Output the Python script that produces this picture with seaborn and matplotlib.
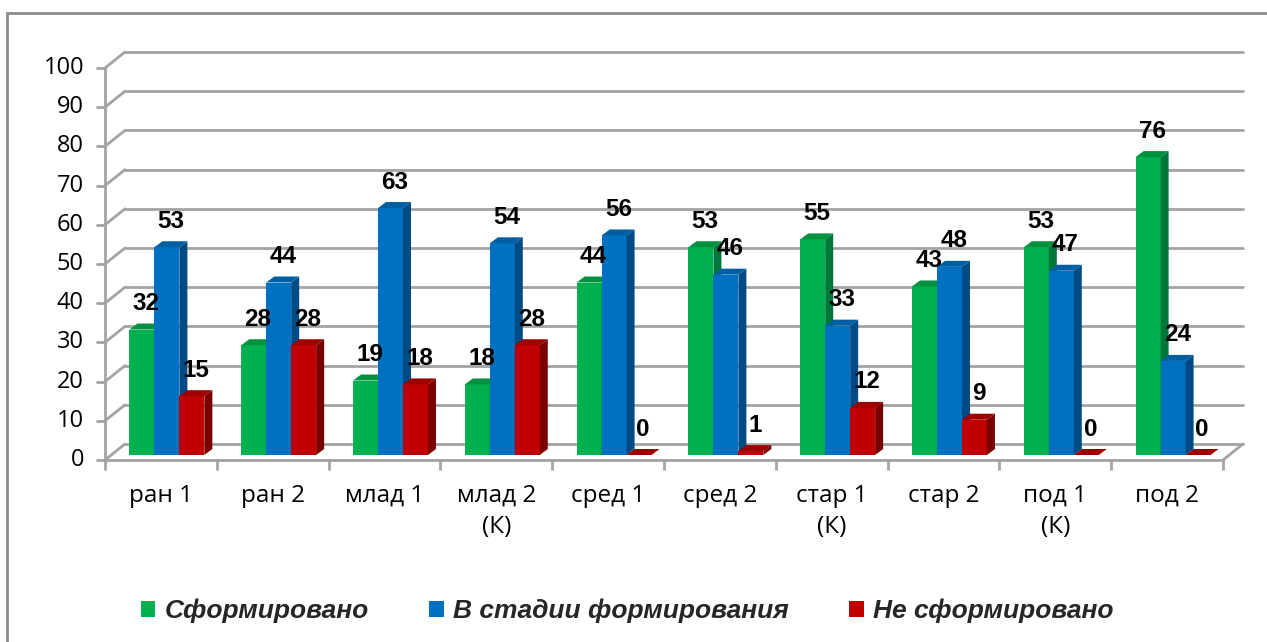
import matplotlib
matplotlib.use("Agg")
import matplotlib.pyplot as plt
from matplotlib.patches import Polygon, Rectangle, Patch
import numpy as np
import pandas as pd
import seaborn as sns

# data
groups = ["ран 1", "ран 2", "млад 1", "млад 2\n(К)", "сред 1", "сред 2",
          "стар 1\n(К)", "стар 2", "под 1\n(К)", "под 2"]
formed = [32, 28, 19, 18, 44, 53, 55, 43, 53, 76]
in_progress = [53, 44, 63, 54, 56, 46, 33, 48, 47, 24]
not_formed = [15, 28, 18, 28, 0, 1, 12, 9, 0, 0]
series = ["Сформировано", "В стадии формирования", "Не сформировано"]
y_ticks = list(range(0, 101, 10))

colors = ["#00B050", "#0070C0", "#C00000"]
side_colors = ["#00773A", "#004B85", "#7A0000"]
top_colors = ["#00923F", "#005FA3", "#9E0000"]

df = pd.DataFrame({"group": groups, series[0]: formed,
                   series[1]: in_progress, series[2]: not_formed})
df = df.melt(id_vars="group", var_name="status", value_name="value")

sns.set_style("white")
plt.rcParams["font.family"] = ["Open Sans", "DejaVu Sans"]
bold_font = ["Liberation Sans", "DejaVu Sans"]

W, H = 1267, 642
fig = plt.figure(figsize=(W / 100, H / 100), dpi=100)
# axes = plane where the bar fronts sit
ax = fig.add_axes([111 / W, (H - 455) / H, 1118 / W, 392 / H])

sns.barplot(data=df, x="group", y="value", hue="status", hue_order=series,
            palette=colors, saturation=1, width=0.67, ax=ax,
            legend=False, edgecolor="none", linewidth=0, errorbar=None)
ax.set_xlim(-0.5, 9.5)
ax.set_ylim(0, 100)
ax.axis("off")

ux = 1118 / 10.0   # px per category
uy = 392 / 100.0   # px per unit
fx, fy = -6 / ux, -5 / uy     # front plane offset
bx, by = 14 / ux, 11 / uy     # back wall offset
gcol = "#A3A3A3"

# back wall gridlines + left diagonals + y ticks
for v in y_ticks:
    ax.plot([-0.5 + bx, 9.5 + bx], [v + by, v + by], color=gcol, lw=2,
            clip_on=False, zorder=0.5)
    ax.plot([-0.5 + fx, -0.5 + bx], [v + fy, v + by], color=gcol, lw=2,
            clip_on=False, zorder=0.5)
    ax.plot([-0.5 + fx - 8 / ux, -0.5 + fx], [v + fy, v + fy], color=gcol,
            lw=2, clip_on=False, zorder=0.5)
    ax.text(-0.5 + fx - 21 / ux, v + fy, str(v), ha="right", va="center",
            fontsize=17, color="black")

# front axis and floor
ax.plot([-0.5 + fx, -0.5 + fx], [fy, 100 + fy], color=gcol, lw=2,
        clip_on=False, zorder=0.6)
ax.plot([-0.5 + fx, 9.5 + fx], [fy, fy], color=gcol, lw=2,
        clip_on=False, zorder=0.6)
ax.plot([9.5 + fx, 9.5 + bx], [fy, by], color=gcol, lw=2,
        clip_on=False, zorder=0.6)
for k in range(11):
    ax.plot([k - 0.5 + fx, k - 0.5 + fx], [fy, fy - 9 / uy], color=gcol,
            lw=2, clip_on=False, zorder=0.6)

for k, g in enumerate(groups):
    ax.text(k + fx, fy - 24 / uy, g, ha="center", va="top", fontsize=17.5,
            linespacing=1.4, color="black")

# 3d sides, tops, labels
dx, dy = 8 / ux, 6 / uy
for i, cont in enumerate(ax.containers):
    for bar in cont:
        bar.set_zorder(2 + i)
        x0 = bar.get_x()
        x1 = x0 + bar.get_width()
        h = bar.get_height()
        side = Polygon([(x1, 0), (x1, h), (x1 + dx, h + dy), (x1 + dx, dy)],
                       closed=True, fc=side_colors[i], ec="none",
                       zorder=2.5 + i)
        top = Polygon([(x0, h), (x1, h), (x1 + dx, h + dy), (x0 + dx, h + dy)],
                      closed=True, fc=top_colors[i], ec="none", zorder=2.5 + i)
        ax.add_patch(side)
        ax.add_patch(top)
        ax.annotate(f"{h:.0f}", ((x0 + x1) / 2, h), xytext=(3, 26 * 0.72),
                    textcoords="offset points", ha="center", va="center",
                    fontsize=17.5, fontweight="bold", family=bold_font,
                    color="black", zorder=10)

# legend
handles = [Patch(fc=c, ec="none") for c in colors]
leg = fig.legend(handles, series, loc="center", bbox_to_anchor=(0.495, 0.048),
                 ncol=3, frameon=False, handlelength=0.55, handleheight=0.55,
                 handletextpad=0.35, columnspacing=2.3,
                 prop={"size": 19, "weight": "bold", "style": "italic",
                       "family": bold_font})

# outer chart frame (clipped on right and bottom)
fig.add_artist(Rectangle((7 / W, -0.1), 1.2, (H - 13) / H + 0.1,
                         transform=fig.transFigure, fill=False,
                         ec="#8C8C8C", lw=2))

fig.savefig("out.png", dpi=100)
